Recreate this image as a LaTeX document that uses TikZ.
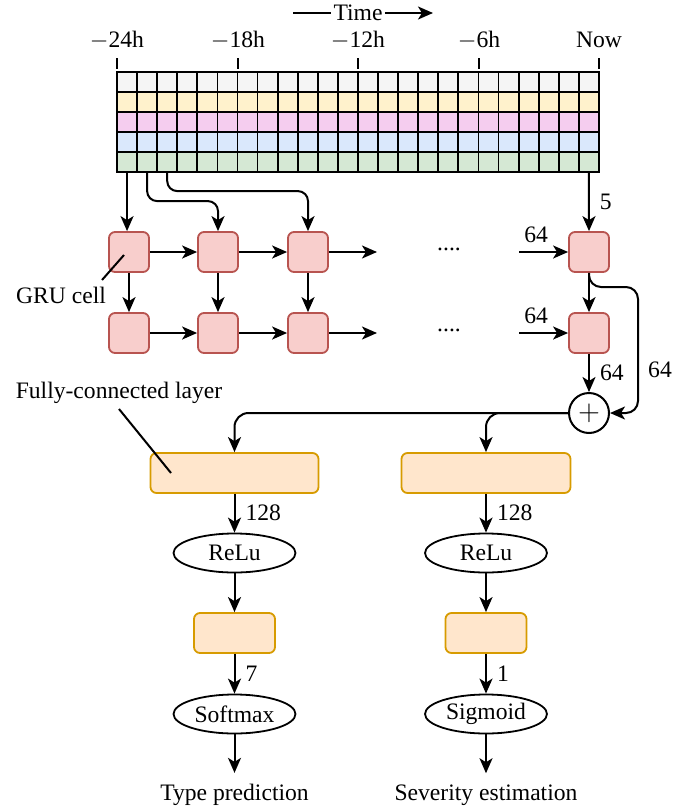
\documentclass[tikz,border=0pt]{standalone}
\usepackage{fontspec}
\setmainfont{Liberation Serif}
\usetikzlibrary{arrows.meta,shapes.geometric,positioning}
\definecolor{rowa}{HTML}{F5F5F5}
\definecolor{rowb}{HTML}{FFF2CC}
\definecolor{rowc}{HTML}{F5CDEF}
\definecolor{rowd}{HTML}{DAE8FC}
\definecolor{rowe}{HTML}{D5E8D4}
\definecolor{grufill}{HTML}{F8CECC}
\definecolor{gruline}{HTML}{B85450}
\definecolor{fcfill}{HTML}{FFE6CC}
\definecolor{fcline}{HTML}{D79B00}
\tikzset{
  vec/.style={-{Stealth[length=7.5pt,width=6.5pt,inset=2pt]},line width=1pt},
  cell/.style={draw,line width=0.9pt,minimum size=10.04pt,inner sep=0pt},
  gru/.style={draw=gruline,fill=grufill,line width=0.9pt,rounded corners=3pt,minimum size=20pt,inner sep=0pt},
  fc/.style={draw=fcline,fill=fcfill,line width=0.9pt,rounded corners=3pt,minimum height=20pt,inner sep=0pt},
  act/.style={ellipse,draw,line width=0.9pt,minimum height=19.5pt,inner sep=0pt},
  lbl/.style={inner sep=5pt},
}

\begin{document}
\begin{tikzpicture}[x=0.5pt,y=-0.5pt,font=\fontsize{11.8}{14}\selectfont]
  \useasboundingbox (0,0) rectangle (695,809);
  % ===== time axis =====
  \node[inner sep=1pt] (time) at (358,13) {Time};
  \draw[line width=1pt] (293,13) -- (time.west);
  \draw[vec] (time.east) -- (433,13);
  \foreach \x/\t in {117/{$-$24h}, 238/{$-$18h}, 358/{$-$12h}, 479/{$-$6h}, 599/{Now}}{
    \node at (\x,40) {\t};
    \draw[line width=1pt] (\x,58) -- (\x,69);}
  % ===== input grid: 5 features x 24 hours =====
  \foreach \r/\c in {1/rowa, 2/rowb, 3/rowc, 4/rowd, 5/rowe}{
    \foreach \k in {1,...,24}{
      \node[cell,fill=\c] (c\r-\k) at ({117+20.08*(\k-0.5)},{62+20*\r}) {};}}
  % ===== GRU cells, two layers =====
  \foreach \i/\x in {1/129, 2/218, 3/308, 4/589}{
    \node[gru] (g1\i) at (\x,252) {};
    \node[gru] (g2\i) at (\x,333) {};
    \draw[vec] (g1\i) -- (g2\i);}
  \foreach \l/\y in {1/252, 2/333}{
    \draw[vec] (g\l1) -- (g\l2);
    \draw[vec] (g\l2) -- (g\l3);
    \coordinate (o\l) at (377,\y);
    \draw[vec] (g\l3) -- (o\l);
    \node (dots\l) at (449,\y-3) {....};
    \coordinate (i\l) at (519,\y);
    \draw[vec] (i\l) -- node[above,inner sep=4pt,pos=0.35] {64} (g\l4);}
  % ===== inputs from the grid =====
  \draw[vec] (c5-1.south) -- (c5-1.south |- g11.north);
  \draw[vec,rounded corners=5pt] (c5-2.south) |- ([yshift=15pt]g12.north) -- (g12.north);
  \draw[vec,rounded corners=5pt] (c5-3.south) |- ([yshift=20pt]g13.north) -- (g13.north);
  \draw[vec] (c5-24.south) -- node[right,lbl] {5} (g14.north);
  \node (grulbl) at (61,295) {GRU cell};
  \draw[line width=1pt] (102,280) -- (124,255);
  % ===== merge of both layers =====
  \node[circle,draw,line width=1pt,minimum size=20pt,inner sep=0pt,fill=white] (plus) at (589,413) {\Large$+$};
  \draw[vec] (g24) -- node[right,lbl] {64} (plus);
  \coordinate (bend) at (638,287);
  \draw[vec,rounded corners=6pt] (g14.south) |- (bend) |- (plus.east);
  \node at (660,370) {64};
  % ===== two heads =====
  \node[fc,minimum width=84pt] (fc1) at (234.5,473) {};
  \node[fc,minimum width=84.5pt] (fc2) at (486,473) {};
  \draw[vec,rounded corners=7pt] (plus.west) -| (fc1.north);
  \draw[vec,rounded corners=7pt] (plus.west) -| (fc2.north);
  \node (fclbl) at (119,393) {Fully-connected layer};
  \draw[line width=1pt] (119,409) -- (171,473);
  \foreach \h/\x/\n/\f/\o in {1/234.5/7/Softmax/{Type prediction}, 2/486/1/Sigmoid/{Severity estimation}}{
    \node[act,minimum width=61pt] (relu\h) at (\x,553) {ReLu};
    \node[fc,minimum width=40.5pt] (sm\h) at (\x,633) {};
    \node[act,minimum width=61pt] (out\h) at (\x,714) {\f};
    \node[inner sep=5.5pt] (res\h) at (\x,795) {\o};
    \draw[vec] (fc\h) -- node[right,lbl] {128} (relu\h);
    \draw[vec] (relu\h) -- (sm\h);
    \draw[vec] (sm\h) -- node[right,lbl] {\n} (out\h);
    \draw[vec] (out\h) -- (res\h);}
\end{tikzpicture}
\end{document}
